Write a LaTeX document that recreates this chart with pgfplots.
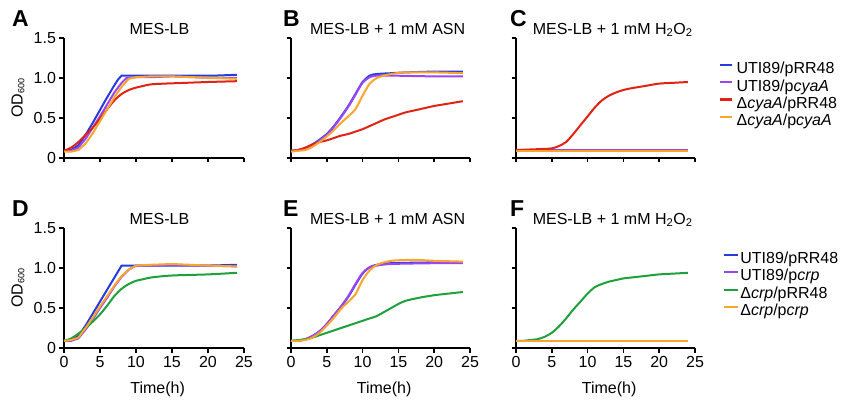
\documentclass[border=0pt]{standalone}
\usepackage{pgfplots}
\pgfplotsset{compat=1.18}
\usepackage{fontspec}
\setmainfont{Liberation Sans}
\definecolor{cblue}{RGB}{40,60,220}
\definecolor{cpurple}{RGB}{155,70,245}
\definecolor{cred}{RGB}{225,35,20}
\definecolor{corange}{RGB}{250,165,45}
\definecolor{cgreen}{RGB}{30,160,60}
\newcommand{\fs}{\fontsize{16}{18}\selectfont}
\pgfplotsset{
 base/.style={
   scale only axis, width=179pt, height=120pt, anchor=south west,
   axis lines=left, axis line style={line width=1.5pt,-},
   xmin=0,xmax=25,ymin=0,ymax=1.5,
   xtick={0,5,10,15,20,25}, ytick={0,0.5,1,1.5},
   xticklabels={}, yticklabels={},
   tick align=outside, major tick length=4.5pt,
   tick style={black, line width=1.5pt},
   tick label style={font=\fs},
   label style={font=\fs},
   title style={font=\fs, at={(axis description cs:0.54,0.983)}, anchor=base, inner sep=0pt},
   clip=false,
   every axis plot/.append style={line width=2pt, no markers},
 },
 yl/.style={yticklabels={0,0.5,1.0,1.5}, ylabel={OD{\fontsize{9}{10}\selectfont\raisebox{-0.35ex}{600}}},
   ylabel style={at={(axis description cs:-0.256,0.5)}, anchor=center}},
 xl/.style={xticklabels={0,5,10,15,20,25}, xlabel={Time(h)},
   xlabel style={at={(axis description cs:0.52,-0.342)}, anchor=center}},
}
\begin{document}
\begin{tikzpicture}
\path[use as bounding box] (0,0) rectangle (846pt,399pt);
% A
\begin{axis}[base, yl, width=180pt, at={(64pt,241pt)}, title={MES-LB}, title style={at={(axis description cs:0.53,0.983)}}]
\addplot[cblue] coordinates {(0,0.09)(1,0.10)(2,0.16)(3,0.29)(4,0.44)(5,0.6)(6,0.76)(7,0.91)(7.5,0.98)(8,1.03)(10,1.03)(12,1.03)(15,1.03)(18,1.03)(21,1.03)(24,1.04)};
\addplot[cpurple] coordinates {(0,0.09)(1,0.09)(2,0.13)(3,0.24)(4,0.38)(5,0.52)(6,0.67)(7,0.82)(8,0.94)(8.7,1.0)(10,1.01)(12,1.01)(15,1.02)(18,1.01)(21,1.0)(24,1.0)};
\addplot[cred, smooth] coordinates {(0,0.09)(1,0.13)(2,0.2)(3,0.29)(4,0.38)(5,0.49)(6,0.61)(7,0.72)(8,0.8)(9,0.85)(10,0.88)(11,0.9)(12,0.92)(14,0.93)(17,0.94)(20,0.95)(24,0.96)};
\addplot[corange] coordinates {(0,0.08)(1,0.08)(2,0.1)(3,0.18)(4,0.31)(5,0.46)(6,0.61)(7,0.76)(8,0.89)(9,0.99)(10,1.01)(12,1.02)(15,1.02)(18,1.01)(21,1.0)(24,0.99)};
\end{axis}
% B
\begin{axis}[base, at={(291pt,241pt)}, title={MES-LB + 1 mM ASN}]
\addplot[cblue, smooth] coordinates {(0,0.09)(1,0.1)(2,0.12)(3,0.17)(4,0.23)(5,0.3)(6,0.4)(7,0.52)(8,0.65)(9,0.8)(10,0.95)(11,1.03)(12,1.05)(14,1.06)(16,1.07)(20,1.08)(24,1.08)};
\addplot[cpurple, smooth] coordinates {(0,0.09)(1,0.1)(2,0.12)(3,0.16)(4,0.22)(5,0.29)(6,0.39)(7,0.51)(8,0.64)(9,0.79)(10,0.94)(11,1.01)(12,1.03)(14,1.03)(20,1.02)(24,1.02)};
\addplot[cred, smooth] coordinates {(0,0.09)(1,0.1)(2,0.13)(3,0.17)(4,0.2)(5,0.22)(6,0.25)(7,0.28)(8,0.3)(9,0.33)(10,0.36)(11,0.4)(12,0.44)(13,0.48)(14,0.51)(15,0.54)(16,0.57)(18,0.61)(20,0.65)(22,0.68)(24,0.71)};
\addplot[corange, smooth] coordinates {(0,0.08)(1,0.09)(2,0.1)(3,0.14)(4,0.2)(5,0.27)(6,0.35)(7,0.44)(8,0.52)(9,0.61)(10,0.78)(11,0.93)(12,1.0)(13,1.03)(14,1.05)(16,1.07)(20,1.07)(24,1.06)};
\end{axis}
% C
\begin{axis}[base, at={(516pt,241pt)}, title={MES-LB + 1 mM H\textsubscript{2}O\textsubscript{2}},
  legend style={at={(axis description cs:1.134,0.804)}, anchor=north west, draw=none, fill=none, inner sep=0pt, font=\fs,
    nodes={inner xsep=3pt, inner ysep=0pt, text height=12pt, text depth=5.3pt}},
  legend cell align=left,
  legend image code/.code={\draw[#1, line width=2.4pt] (0pt,5.5pt) -- (12pt,5.5pt);}]
\addplot[cblue] coordinates {(0,0.09)(24,0.09)};
\addlegendentry{UTI89/pRR48}
\addplot[cpurple] coordinates {(0,0.1)(24,0.1)};
\addlegendentry{UTI89/p\textit{cyaA}}
\addplot[cred, smooth] coordinates {(0,0.1)(3,0.11)(5,0.12)(6,0.15)(7,0.2)(8,0.3)(9,0.41)(10,0.52)(11,0.63)(12,0.72)(13,0.78)(14,0.82)(15,0.85)(16,0.87)(18,0.9)(20,0.93)(22,0.94)(24,0.95)};
\addlegendentry{Δ\textit{cyaA}/pRR48}
\addplot[corange] coordinates {(0,0.09)(24,0.09)};
\addlegendentry{Δ\textit{cyaA}/p\textit{cyaA}}
\end{axis}
% D
\begin{axis}[base, yl, xl, width=180pt, at={(64pt,51pt)}, title={MES-LB}, title style={at={(axis description cs:0.53,0.983)}}]
\addplot[cblue] coordinates {(0,0.09)(1,0.1)(2,0.15)(3,0.28)(4,0.43)(5,0.58)(6,0.73)(7,0.88)(8,1.03)(10,1.03)(15,1.03)(20,1.03)(24,1.04)};
\addplot[cpurple] coordinates {(0,0.09)(1,0.09)(2,0.12)(3,0.23)(4,0.36)(5,0.5)(6,0.63)(7,0.77)(8,0.89)(9,0.98)(10,1.03)(12,1.03)(15,1.04)(20,1.03)(24,1.02)};
\addplot[cgreen, smooth] coordinates {(0,0.09)(1,0.12)(2,0.18)(3,0.25)(4,0.33)(5,0.42)(6,0.53)(7,0.65)(8,0.74)(9,0.8)(10,0.84)(11,0.86)(12,0.88)(14,0.9)(16,0.91)(20,0.92)(24,0.94)};
\addplot[corange] coordinates {(0,0.09)(1,0.1)(2,0.13)(3,0.25)(4,0.38)(5,0.52)(6,0.65)(7,0.78)(8,0.9)(9,0.98)(10,1.03)(12,1.04)(15,1.05)(20,1.03)(24,1.02)};
\end{axis}
% E
\begin{axis}[base, xl, at={(291pt,51pt)}, title={MES-LB + 1 mM ASN}]
\addplot[cblue, smooth] coordinates {(0,0.09)(1,0.09)(2,0.11)(3,0.15)(4,0.21)(5,0.3)(6,0.41)(7,0.52)(8,0.64)(9,0.79)(10,0.93)(11,1.01)(12,1.04)(14,1.06)(20,1.07)(24,1.07)};
\addplot[cpurple, smooth] coordinates {(0,0.09)(1,0.09)(2,0.11)(3,0.15)(4,0.21)(5,0.3)(6,0.41)(7,0.52)(8,0.65)(9,0.8)(10,0.94)(11,1.01)(12,1.03)(14,1.05)(20,1.06)(24,1.06)};
\addplot[cgreen, smooth] coordinates {(0,0.09)(2,0.11)(3,0.13)(4,0.16)(5,0.19)(6,0.22)(7,0.25)(8,0.28)(9,0.31)(10,0.34)(11,0.37)(12,0.4)(13,0.45)(14,0.5)(15,0.55)(16,0.59)(18,0.63)(20,0.66)(22,0.68)(24,0.7)};
\addplot[corange, smooth] coordinates {(0,0.09)(1,0.09)(2,0.1)(3,0.13)(4,0.19)(5,0.28)(6,0.38)(7,0.49)(8,0.58)(9,0.67)(10,0.85)(11,0.97)(12,1.04)(13,1.07)(14,1.09)(16,1.1)(18,1.1)(20,1.09)(24,1.08)};
\end{axis}
% F
\begin{axis}[base, xl, at={(516pt,51pt)}, title={MES-LB + 1 mM H\textsubscript{2}O\textsubscript{2}},
  legend style={at={(axis description cs:1.155,0.806)}, anchor=north west, draw=none, fill=none, inner sep=0pt, font=\fs,
    nodes={inner xsep=1pt, inner ysep=0pt, text height=12pt, text depth=5.5pt}},
  legend cell align=left,
  legend image code/.code={\draw[#1, line width=2.4pt] (0pt,5.5pt) -- (14pt,5.5pt);}]
\addplot[cblue] coordinates {(0,0.09)(24,0.09)};
\addlegendentry{UTI89/pRR48}
\addplot[cpurple] coordinates {(0,0.09)(24,0.09)};
\addlegendentry{UTI89/p\textit{crp}}
\addplot[cgreen, smooth] coordinates {(0,0.09)(1,0.09)(2,0.1)(3,0.11)(4,0.14)(5,0.19)(6,0.27)(7,0.37)(8,0.48)(9,0.58)(10,0.68)(11,0.76)(12,0.8)(13,0.83)(14,0.85)(15,0.87)(16,0.88)(18,0.9)(20,0.92)(22,0.93)(24,0.94)};
\addlegendentry{Δ\textit{crp}/pRR48}
\addplot[corange] coordinates {(0,0.085)(24,0.085)};
\addlegendentry{Δ\textit{crp}/p\textit{crp}}
\end{axis}
\node[anchor=base west, inner sep=0pt, font=\fontsize{23}{25}\bfseries\selectfont] at (12pt,372pt) {A};
\node[anchor=base west, inner sep=0pt, font=\fontsize{23}{25}\bfseries\selectfont] at (283pt,372pt) {B};
\node[anchor=base west, inner sep=0pt, font=\fontsize{23}{25}\bfseries\selectfont] at (510pt,372pt) {C};
\node[anchor=base west, inner sep=0pt, font=\fontsize{23}{25}\bfseries\selectfont] at (12pt,182pt) {D};
\node[anchor=base west, inner sep=0pt, font=\fontsize{23}{25}\bfseries\selectfont] at (283pt,182pt) {E};
\node[anchor=base west, inner sep=0pt, font=\fontsize{23}{25}\bfseries\selectfont] at (510pt,182pt) {F};
\end{tikzpicture}
\end{document}
